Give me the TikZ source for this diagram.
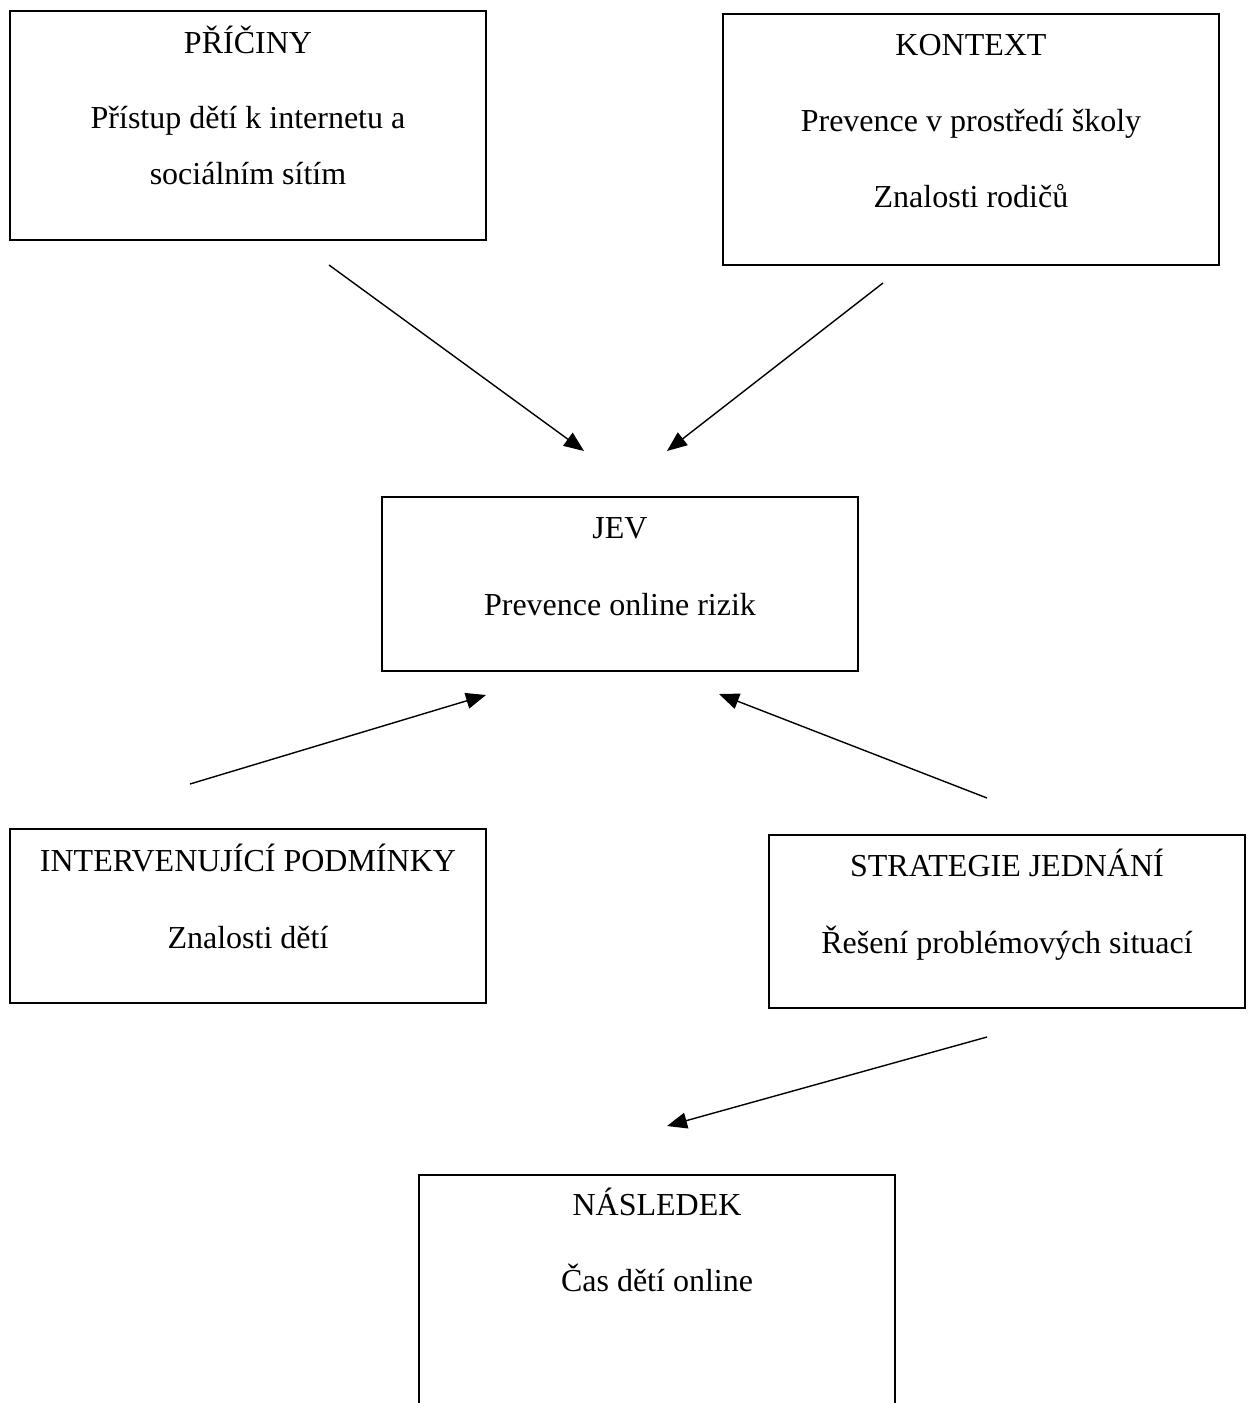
\documentclass[tikz,border=0pt]{standalone}
\usepackage{fontspec}
\setmainfont{Liberation Serif}
\usepackage{tikz}
\usetikzlibrary{arrows.meta,positioning}

\begin{document}
\begin{tikzpicture}[x=0.5pt,y=-0.5pt,
                    box/.style={draw,line width=0.9pt,inner sep=0pt,minimum width=238pt},
                    txt/.style={anchor=base,inner sep=0pt,font=\fontsize{16}{19}\selectfont},
                    arr/.style={line width=0.7pt,-{Triangle[length=10pt,width=8pt]}}]

  \useasboundingbox (0,0) rectangle (1252,1403);
  \clip (0,0) rectangle (1252,1403);

  % boxes
  \node[box,minimum height=114.5pt] (pric) at (248,125.5) {};
  \node[box,minimum height=125.5pt,minimum width=248pt] (kontext) at (971,139.5) {};
  \node[box,minimum height=87pt] (jev) at (620,584) {};
  \node[box,minimum height=87pt] (interv) at (248,916) {};
  \node[box,minimum height=86.5pt] (strat) at (1007,921.5) {};
  \node[box,minimum height=150pt] (nasl) at (657,1325) {};

  % texts
  \node[txt] (pricT) at (248,53) {PŘÍČINY};
  \node[txt] (pricA) at (248,128) {Přístup dětí k internetu a};
  \node[txt] (pricB) at (248,184) {sociálním sítím};
  \node[txt] (kontextT) at (971,55) {KONTEXT};
  \node[txt] (kontextA) at (971,131) {Prevence v prostředí školy};
  \node[txt] (kontextB) at (971,207) {Znalosti rodičů};
  \node[txt] (jevT) at (620,538) {JEV};
  \node[txt] (jevA) at (620,615) {Prevence online rizik};
  \node[txt] (intervT) at (248,871) {INTERVENUJÍCÍ PODMÍNKY};
  \node[txt] (intervA) at (248,948) {Znalosti dětí};
  \node[txt] (stratT) at (1007,876) {STRATEGIE JEDNÁNÍ};
  \node[txt] (stratA) at (1007,953) {Řešení problémových situací};
  \node[txt] (naslT) at (657,1215) {NÁSLEDEK};
  \node[txt] (naslA) at (657,1291) {Čas dětí online};

  % arrow ends
  \coordinate (p1) at (329,265);
  \coordinate (p2) at (584,451);
  \coordinate (k1) at (883,283);
  \coordinate (k2) at (667,451);
  \coordinate (i1) at (190,784);
  \coordinate (i2) at (486,695);
  \coordinate (s1) at (987,798);
  \coordinate (s2) at (719,694);
  \coordinate (n1) at (987,1037);
  \coordinate (n2) at (667,1126);

  \draw[arr] (p1) -- (p2);
  \draw[arr] (k1) -- (k2);
  \draw[arr] (i1) -- (i2);
  \draw[arr] (s1) -- (s2);
  \draw[arr] (n1) -- (n2);

\end{tikzpicture}
\end{document}
